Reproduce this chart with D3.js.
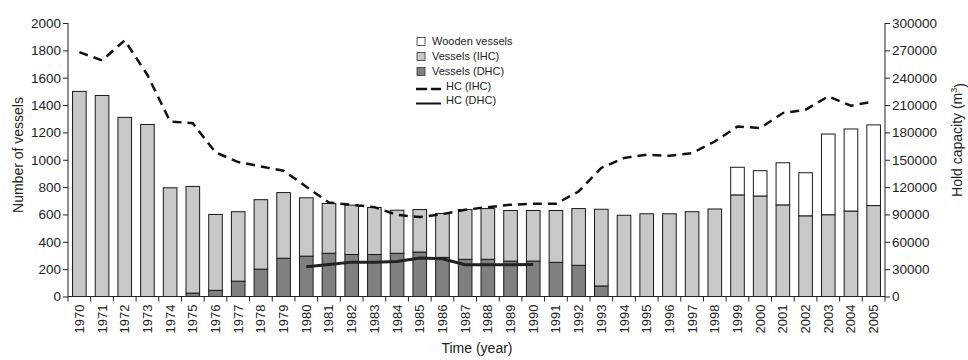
<!DOCTYPE html>
<html>
<head>
<meta charset="utf-8">
<script src="https://cdn.jsdelivr.net/npm/d3@7/dist/d3.min.js"></script>
<style>
  html, body { margin: 0; padding: 0; background: #fff; }
  svg { display: block; font-family: "Liberation Sans", Arial, sans-serif; }
</style>
</head>
<body>
<svg id="chart" width="968" height="360"></svg>
<script>
const years = d3.range(1970, 2006).map(String);

// Number of vessels, stacked segments
const vesselsDHC = [0,0,0,0,0,25,45,112,200,280,295,316,307,307,316,325,286,272,272,259,259,250,228,77,0,0,0,0,0,0,0,0,0,0,0,0];
const vesselsIHC = [1500,1470,1310,1258,795,780,555,508,508,480,427,364,361,344,315,311,321,364,371,370,370,379,415,561,594,605,605,620,640,743,735,670,590,598,625,665];
const wooden     = [0,0,0,0,0,0,0,0,0,0,0,0,0,0,0,0,0,0,0,0,0,0,0,0,0,0,0,0,0,202,185,308,315,590,600,590];

// Hold capacity (m3)
const hcIHC = [268000,259000,281000,243000,192000,190000,158000,147500,142600,138000,120400,103000,100600,98000,89600,87100,90400,95100,98000,100600,101700,101700,115200,141000,152000,155500,154400,157300,170000,186500,184800,201200,204900,219500,209300,214000];
const hcDHCYears = ["1980","1981","1982","1983","1984","1985","1986","1987","1988","1989","1990"];
const hcDHC = [32600,35100,37700,37700,38400,42100,41400,34800,34800,34800,35100];

const leftTicks = d3.range(0, 2001, 200);
const rightTicks = d3.range(0, 300001, 30000);

const svg = d3.select("#chart");
const L = 68, R = 885, T = 23, B = 296.5;
const textCol = "#222";

const x = d3.scaleBand().domain(years).range([L, R]).paddingInner(0.4).paddingOuter(0.2);
const yL = d3.scaleLinear().domain([0, 2000]).range([B, T]);
const yR = d3.scaleLinear().domain([0, 300000]).range([B, T]);

// Bars
const stackData = years.map((yr, i) => ({ yr, dhc: vesselsDHC[i], ihc: vesselsIHC[i], wood: wooden[i] }));
const stack = d3.stack().keys(["dhc", "ihc", "wood"])(stackData);
const fills = { dhc: "#808080", ihc: "#c8c8c8", wood: "#ffffff" };

svg.append("g").selectAll("g").data(stack).join("g")
  .attr("fill", d => fills[d.key])
  .selectAll("rect").data(d => d.filter(s => s[1] - s[0] > 0)).join("rect")
  .attr("x", d => x(d.data.yr))
  .attr("width", x.bandwidth())
  .attr("y", d => yL(d[1]))
  .attr("height", d => yL(d[0]) - yL(d[1]))
  .attr("stroke", "#1a1a1a")
  .attr("stroke-width", 1);

// Lines
const cx = d => x(d) + x.bandwidth() / 2;
const lineIHC = d3.line().x((d, i) => cx(years[i])).y(d => yR(d));
svg.append("path").datum(hcIHC).attr("d", lineIHC)
  .attr("fill", "none").attr("stroke", "#111").attr("stroke-width", 2.5)
  .attr("stroke-dasharray", "9,6");

const lineDHC = d3.line().x((d, i) => cx(hcDHCYears[i])).y(d => yR(d));
svg.append("path").datum(hcDHC).attr("d", lineDHC)
  .attr("fill", "none").attr("stroke", "#222").attr("stroke-width", 3);

// Left axis
const gL = svg.append("g").attr("transform", `translate(${L},0)`)
  .call(d3.axisLeft(yL).tickValues(leftTicks).tickFormat(d3.format("d")).tickSize(5).tickPadding(2));
gL.selectAll("text").attr("font-size", 13.5).attr("fill", textCol).attr("font-family", "Liberation Sans, Arial, sans-serif");
gL.selectAll("line, path").attr("stroke", "#222");
gL.select(".domain").attr("d", `M0,${T}V${B}`);

// Right axis
const gR = svg.append("g").attr("transform", `translate(${R},0)`)
  .call(d3.axisRight(yR).tickValues(rightTicks).tickFormat(d3.format("d")).tickSize(5).tickPadding(2));
gR.selectAll("text").attr("font-size", 13.5).attr("fill", textCol).attr("font-family", "Liberation Sans, Arial, sans-serif");
gR.selectAll("line, path").attr("stroke", "#222");
gR.select(".domain").attr("d", `M0,${T}V${B}`);

// Bottom axis
const gB = svg.append("g").attr("transform", `translate(0,${B})`);
gB.append("line").attr("x1", L).attr("x2", R).attr("stroke", "#222");
const step = x.step();
gB.selectAll("line.tk").data(d3.range(years.length + 1)).join("line").attr("class", "tk")
  .attr("x1", i => L + i * step).attr("x2", i => L + i * step)
  .attr("y1", 0).attr("y2", 5).attr("stroke", "#222");
gB.selectAll("text").data(years).join("text")
  .attr("transform", d => `translate(${cx(d) + 4.5},8) rotate(-90)`)
  .attr("text-anchor", "end")
  .attr("font-size", 13).attr("fill", textCol)
  .text(d => d);

// Axis titles
svg.append("text").attr("transform", "translate(18,155) rotate(-90)")
  .attr("text-anchor", "middle").attr("dy", "0.35em").attr("font-size", 14).attr("fill", textCol)
  .text("Number of vessels");
const rt = svg.append("text").attr("transform", "translate(957,140) rotate(-90)")
  .attr("text-anchor", "middle").attr("dy", "0.35em").attr("font-size", 14).attr("fill", textCol);
rt.append("tspan").text("Hold capacity (m");
rt.append("tspan").attr("font-size", 9).attr("dy", "-0.6em").text("3");
rt.append("tspan").attr("dy", "0.6em").text(")");
svg.append("text").attr("x", 477).attr("y", 353).attr("text-anchor", "middle")
  .attr("font-size", 14).attr("fill", textCol).text("Time (year)");

// Legend
const lg = svg.append("g").attr("font-size", 11).attr("fill", textCol);
const sq = [["Wooden vessels", "#ffffff"], ["Vessels (IHC)", "#c8c8c8"], ["Vessels (DHC)", "#808080"]];
sq.forEach((d, i) => {
  const yy = 41.5 + i * 15;
  lg.append("rect").attr("x", 417).attr("y", yy - 4).attr("width", 8).attr("height", 8)
    .attr("fill", d[1]).attr("stroke", "#333").attr("stroke-width", 0.8);
  lg.append("text").attr("x", 432).attr("y", yy).attr("dy", "0.35em").text(d[0]);
});
const ln = [["HC (IHC)", "11,4", 2.5], ["HC (DHC)", null, 2]];
ln.forEach((d, i) => {
  const yy = 87 + i * 14.5;
  lg.append("line").attr("x1", 416).attr("x2", 441).attr("y1", yy + 2).attr("y2", yy + 2)
    .attr("stroke", "#111").attr("stroke-width", d[2]).attr("stroke-dasharray", d[1]);
  lg.append("text").attr("x", 446).attr("y", yy - 1).attr("dy", "0.35em").text(d[0]);
});
</script>
</body>
</html>
